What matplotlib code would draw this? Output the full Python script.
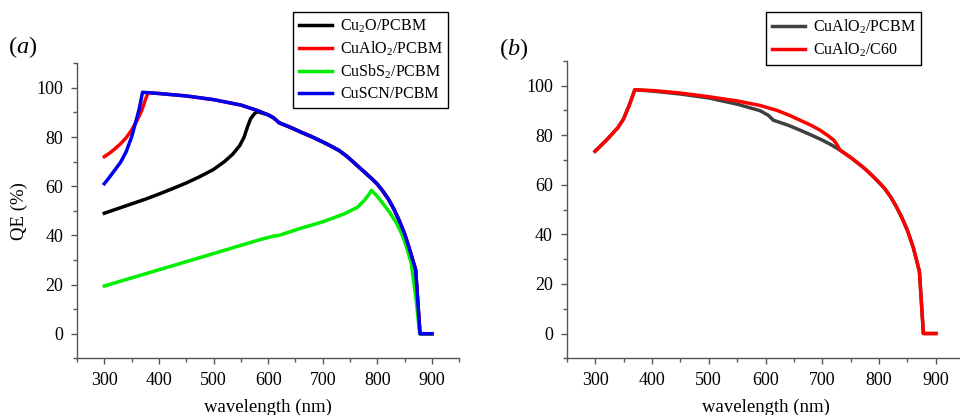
import matplotlib
matplotlib.use("Agg")
import matplotlib.pyplot as plt
from matplotlib.ticker import MultipleLocator

plt.rcParams["font.family"] = "serif"
plt.rcParams["font.serif"] = ["Liberation Serif", "DejaVu Serif"]
plt.rcParams["mathtext.fontset"] = "custom"
plt.rcParams["mathtext.rm"] = "Liberation Serif"
plt.rcParams["mathtext.it"] = "Liberation Serif:italic"
plt.rcParams["font.size"] = 13

# ---- panel (a): different hole-transport layers with PCBM ----
# common high-wavelength part shared by the PCBM devices
wl_main_a = [400, 450, 500, 550, 580, 600, 610, 620, 640, 660, 680, 700, 715, 730, 745,
             760, 770, 780, 790, 800, 810, 820, 830, 840, 850, 860, 866, 870, 878, 900]
qe_main_a = [97.7, 96.7, 95.2, 93, 90.8, 89, 87.8, 85.8, 84, 82, 80.1, 78, 76.3, 74.5, 72,
             69, 67, 65, 63, 60.8, 58, 54.8, 50.8, 46, 40.5, 33.5, 29, 26, 0, 0]

wl_cu2o = [300, 325, 350, 375, 400, 425, 450, 475, 500, 520, 535, 548, 556, 562, 568,
           575, 580] + wl_main_a[5:]
qe_cu2o = [49, 50.9, 52.8, 54.7, 56.8, 59, 61.3, 63.9, 66.8, 70, 73, 76.5, 80, 84, 87.5,
           89.5, 90.3] + qe_main_a[5:]

wl_cualo2 = [300, 310, 320, 330, 340, 350, 360, 368, 375, 380] + wl_main_a
qe_cualo2 = [72, 73.5, 75.3, 77.3, 79.7, 82.8, 86.8, 90.5, 95, 98] + qe_main_a

wl_cusbs2 = [300, 400, 500, 584, 610, 620, 660, 700, 740, 764, 777, 785, 789, 795, 800,
             810, 822, 835, 845, 853, 862, 871, 877.5, 900]
qe_cusbs2 = [19.4, 26, 32.6, 38.2, 39.7, 40, 42.9, 45.5, 48.8, 51.5, 54.5, 56.8, 58.3, 57,
             55.8, 53, 49.5, 45, 40.5, 35.5, 28.7, 13.7, 0, 0]

wl_cuscn = [300, 310, 320, 330, 340, 350, 358, 364, 370] + wl_main_a
qe_cuscn = [61, 63.8, 66.8, 69.8, 74, 80, 86.5, 91.5, 98.2] + qe_main_a

# ---- panel (b): CuAlO2 with PCBM vs C60 ----
wl_pcbm = [300, 320, 340, 350, 360, 370, 400, 450, 500, 550, 590, 605, 614, 640, 661,
           680, 700, 715, 731, 750, 760, 770, 780, 790, 800, 810, 820, 830, 840, 850,
           860, 866, 871, 878, 900]
qe_pcbm = [73.5, 78, 83, 86.5, 92, 98.3, 97.8, 96.6, 95, 92.5, 89.9, 88, 86, 84, 82,
           80.1, 78, 76.2, 74, 71, 69.2, 67.4, 65.4, 63.2, 60.9, 58.4, 55.2, 51.3, 46.8,
           41.5, 34.8, 29.5, 25, 0, 0]

wl_c60 = [300, 320, 340, 350, 360, 370, 400, 450, 500, 550, 590, 620, 640, 661, 680,
          696, 710, 720, 725, 731, 750, 760, 770, 780, 790, 800, 810, 820, 830, 840,
          850, 860, 866, 871, 878, 900]
qe_c60 = [73.5, 78, 83, 86.5, 92, 98.3, 98, 97, 95.5, 93.8, 92, 90, 88.2, 86, 84,
          82, 79.8, 78, 76.5, 74, 71, 69.2, 67.4, 65.4, 63.2, 60.9, 58.4, 55.2, 51.3,
          46.8, 41.5, 34.8, 29.5, 25, 0, 0]

series_a = [
    (wl_cu2o, qe_cu2o, "black", "Cu$_2$O/PCBM"),
    (wl_cualo2, qe_cualo2, "#ff0000", "CuAlO$_2$/PCBM"),
    (wl_cusbs2, qe_cusbs2, "#00ee00", "CuSbS$_2$/PCBM"),
    (wl_cuscn, qe_cuscn, "#0000ee", "CuSCN/PCBM"),
]
series_b = [
    (wl_pcbm, qe_pcbm, "#404040", "CuAlO$_2$/PCBM"),
    (wl_c60, qe_c60, "#ff0000", "CuAlO$_2$/C60"),
]

fig = plt.figure(figsize=(9.6, 4.15), dpi=100)
ax_a = fig.add_axes([77 / 960, 0.1366, 382.3 / 960, 0.711])
ax_b = fig.add_axes([566.7 / 960, 0.1366, 397.6 / 960, 0.717])


def style_axes(ax):
    ax.set_xlim(250, 950)
    ax.set_ylim(-10, 110)
    ax.xaxis.set_minor_locator(MultipleLocator(50))
    ax.yaxis.set_major_locator(MultipleLocator(20))
    ax.yaxis.set_minor_locator(MultipleLocator(10))
    ax.set_xticks(range(300, 1000, 100))
    for side in ("top", "right"):
        ax.spines[side].set_visible(False)
    for side in ("left", "bottom"):
        ax.spines[side].set_color("#555555")
        ax.spines[side].set_linewidth(1.0)
    ax.tick_params(which="major", direction="out", length=4, width=1.0,
                   color="#555555", labelsize=13)
    ax.tick_params(which="minor", direction="out", length=3, width=1.0,
                   color="#555555")
    ax.tick_params(axis="y", which="major", pad=6)
    ax.tick_params(axis="x", which="major", pad=6)
    ax.set_xlabel("wavelength (nm)", fontsize=13.5, labelpad=7)


for ax, series in ((ax_a, series_a), (ax_b, series_b)):
    for wl, qe, col, lab in series:
        ax.plot(wl, qe, color=col, lw=2.5, label=lab)
    style_axes(ax)

ax_a.set_ylabel("QE (%)", fontsize=13.5, labelpad=6)

leg_kw = dict(loc="upper left", bbox_transform=fig.transFigure, borderaxespad=0,
              frameon=True, fancybox=False, edgecolor="black", fontsize=11.5,
              handlelength=2.1, labelspacing=0.3, handletextpad=0.5,
              borderpad=0.35)
leg_a = ax_a.legend(bbox_to_anchor=(293 / 960, 1 - 12 / 415), **leg_kw)
leg_b = ax_b.legend(bbox_to_anchor=(766 / 960, 1 - 12 / 415), **leg_kw)
for leg in (leg_a, leg_b):
    leg.get_frame().set_linewidth(1.0)
    leg.get_frame().set_alpha(1)

fig.text(8 / 960, 1 - 47 / 415, "($\\mathit{a}$)", fontsize=17.5, va="center", ha="left")
fig.text(499 / 960, 1 - 49 / 415, "($\\mathit{b}$)", fontsize=17.5, va="center", ha="left")

fig.savefig("out.png", dpi=100)
